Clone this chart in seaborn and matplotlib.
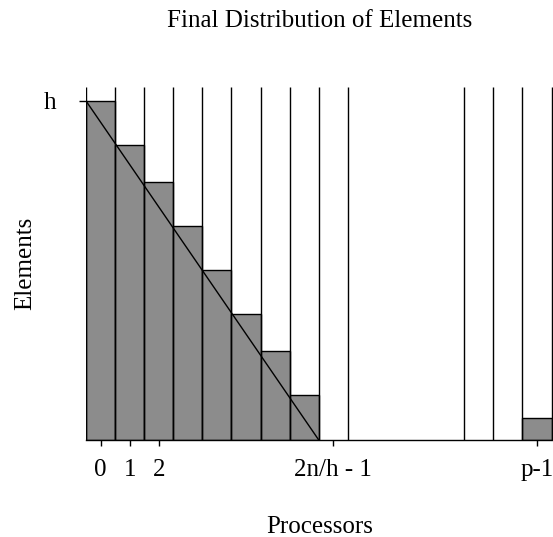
import seaborn as sns
import matplotlib.pyplot as plt
import pandas as pd

# slot index on the processor axis (9-12 are the "..." gap) and bar height (h = 1)
slots = [0, 1, 2, 3, 4, 5, 6, 7, 15]
heights = [1.0, 0.870, 0.761, 0.631, 0.501, 0.372, 0.263, 0.133, 0.066]
n_slots = 16
visible_slots = [0, 1, 2, 3, 4, 5, 6, 7, 8, 13, 14, 15]
tick_slots = [0, 1, 2, 8, 15]
tick_labels = ['0', '1', '2', '2n/h - 1', 'p-1']
h = 1.0
last_full = 7   # diagonal ends at the right edge of this slot

sns.set_style('ticks')
plt.rcParams['font.family'] = ['Liberation Serif', 'DejaVu Serif']
plt.rcParams['text.color'] = 'black'
plt.rcParams['axes.labelcolor'] = 'black'
plt.rcParams['xtick.color'] = 'black'
plt.rcParams['ytick.color'] = 'black'

df = pd.DataFrame({'slot': slots, 'height': heights})

fig = plt.figure(figsize=(5.53, 5.37), dpi=100)
ax = fig.add_axes([0.1555, 0.1806, 0.8445, 0.658])

sns.barplot(data=df, x='slot', y='height', order=list(range(n_slots)),
            color='#8c8c8c', saturation=1, edgecolor='black', linewidth=1.0,
            width=1.0, ax=ax)

# slot boundaries
edges = sorted(set([s - 0.5 for s in visible_slots] + [s + 0.5 for s in visible_slots]))
ax.vlines(edges, 0, 1, transform=ax.get_xaxis_transform(), color='black', lw=1.0, zorder=3)

# diagonal
ax.plot([-0.5, last_full + 0.5], [h, 0], color='black', lw=1.0, zorder=4)

ax.set_xlim(-0.5, n_slots - 0.45)
ax.set_ylim(0, 1.042)

ax.set_xticks(tick_slots)
ax.set_xticklabels(tick_labels, fontsize=18)
ax.set_yticks([h])
ax.set_yticklabels(['h'], fontsize=18)
ax.tick_params(axis='x', length=4.5, width=1.0, pad=9.5)
ax.tick_params(axis='y', length=5, width=1.0, pad=16)

sns.despine(ax=ax, left=True)
ax.spines['bottom'].set_color('black')
ax.spines['bottom'].set_linewidth(1.0)

ax.set_xlabel('Processors', fontsize=18, labelpad=25)
ax.set_ylabel('Elements', fontsize=18, labelpad=6)
ax.set_title('Final Distribution of Elements', fontsize=18, pad=43)

fig.savefig('out.png', dpi=100)
